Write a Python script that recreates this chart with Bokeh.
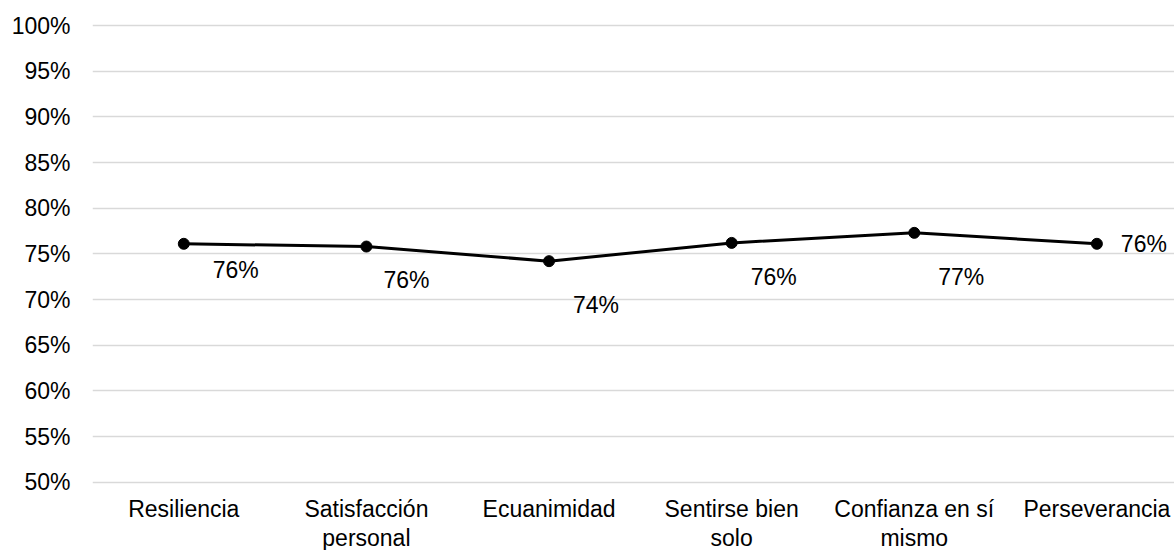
from bokeh.plotting import figure
from bokeh.models import ColumnDataSource, FixedTicker, PrintfTickFormatter, Range1d
from bokeh.core.properties import value
from bokeh.embed import file_html
from bokeh.resources import INLINE

# Resilience dimensions and their average scores (percent)
categories = ["Resiliencia", "Satisfacción\npersonal", "Ecuanimidad",
              "Sentirse bien\nsolo", "Confianza en sí\nmismo", "Perseverancia"]
scores = [76.1, 75.8, 74.2, 76.2, 77.3, 76.1]
y_ticks = [50, 55, 60, 65, 70, 75, 80, 85, 90, 95, 100]

# pixel offsets of each value label from its point
label_dx = [52, 40, 47, 42, 47, 47]
label_dy = [26, 33, 44, 34, 44, 0]

FONT = "Liberation Sans"
FSIZE = "23px"

Y_MIN, Y_MAX = y_ticks[0], y_ticks[-1]

xs = list(range(len(categories)))
src = ColumnDataSource(dict(
    x=xs, y=scores,
    label=[f"{round(v)}%" for v in scores],
    dx=label_dx, dy=label_dy,
))
cat_src = ColumnDataSource(dict(x=xs, y=[Y_MIN] * len(xs), name=categories))

# the plotting frame fills the full height; the room under the 50% line
# holds the category names
p = figure(width=1174, height=550, output_backend="svg", toolbar_location=None,
           x_range=Range1d(-0.5, 5.425), y_range=Range1d(42.52, 102.74),
           x_axis_location=None,
           min_border_left=92, min_border_right=0, min_border_top=0,
           min_border_bottom=0)
p.outline_line_color = None
p.background_fill_color = "white"
p.border_fill_color = "white"

p.xgrid.grid_line_color = None
p.ygrid.grid_line_color = "#d9d9d9"
p.ygrid.grid_line_width = 1.5
p.yaxis.ticker = FixedTicker(ticks=y_ticks)
p.yaxis.formatter = PrintfTickFormatter(format="%d%%")
p.yaxis.axis_line_color = None
p.yaxis.major_tick_line_color = None
p.yaxis.minor_tick_line_color = None
p.yaxis.major_tick_out = 0
p.yaxis.major_label_standoff = 22
p.yaxis.major_label_text_font = FONT
p.yaxis.major_label_text_font_size = FSIZE
p.yaxis.major_label_text_color = "#000000"

p.line("x", "y", source=src, line_color="black", line_width=3)
p.scatter("x", "y", source=src, size=11, fill_color="black", line_color="black")
p.text("x", "y", text="label", source=src, x_offset="dx", y_offset="dy",
       text_font=value(FONT), text_font_size=FSIZE, text_color="#000000",
       text_align="center", text_baseline="middle")

# category names below the baseline
p.text("x", "y", text="name", source=cat_src, y_offset=14,
       text_font=value(FONT), text_font_size=FSIZE, text_color="#000000",
       text_align="center", text_baseline="top", text_line_height=1.1)

open("out.html", "w").write(file_html(p, INLINE))
